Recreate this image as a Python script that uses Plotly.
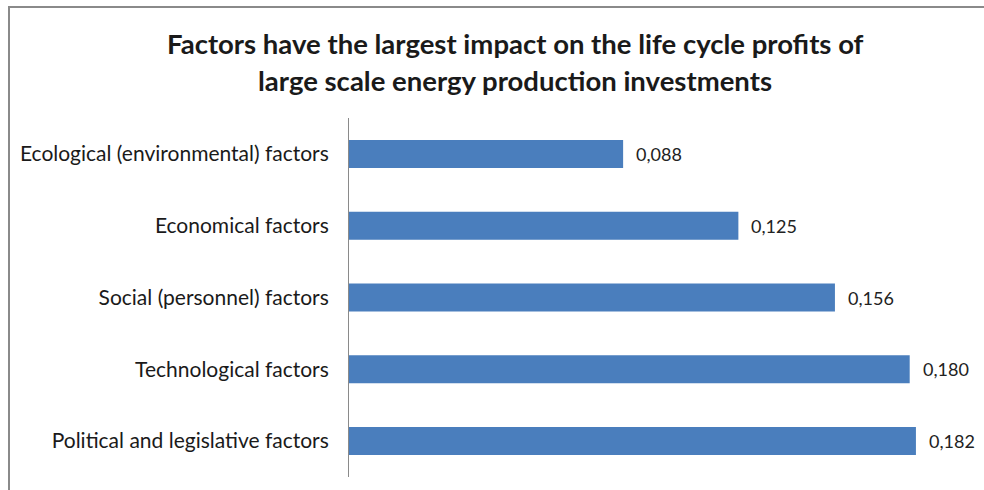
import plotly.graph_objects as go

# Factor weights (top to bottom as displayed)
categories = [
    "Ecological (environmental) factors",
    "Economical factors",
    "Social (personnel) factors",
    "Technological factors",
    "Political and legislative factors",
]
values = [0.088, 0.125, 0.156, 0.180, 0.182]
value_labels = ["0,088", "0,125", "0,156", "0,180", "0,182"]

title_lines = [
    "Factors have the largest impact on the life cycle profits of",
    "large scale energy production investments",
]

FONT = "Lato, 'Open Sans', sans-serif"
BAR_COLOR = "#4A7EBD"

# plot-area geometry in pixels, used to place paper-referenced decorations
L, R, T, B, W, H = 349, 12, 118, 13, 984, 490
PW, PH = W - L - R, H - T - B


def px_x(x):
    return (x - L) / PW


def px_y(y):
    return (H - B - y) / PH


fig = go.Figure(
    go.Bar(
        x=values,
        y=categories,
        orientation="h",
        width=0.39,
        marker=dict(color=BAR_COLOR, line=dict(width=0)),
        hoverinfo="skip",
    )
)

# value labels to the right of each bar
for cat, v, lab in zip(categories, values, value_labels):
    fig.add_annotation(
        x=v, y=cat, text=lab, showarrow=False,
        xanchor="left", xshift=11,
        font=dict(family=FONT, size=18, color="#222"),
    )

# two-line title, each line placed separately to control the leading
for line, yc in zip(title_lines, [43, 80]):
    fig.add_annotation(
        text=line, xref="paper", yref="paper",
        x=px_x(515), y=px_y(yc),
        xanchor="center", yanchor="middle", showarrow=False,
        font=dict(family=FONT, size=27.5, color="#1a1a1a", weight="bold"),
    )

# outer frame of the chart
fig.add_shape(
    type="rect", xref="paper", yref="paper",
    x0=px_x(9), x1=px_x(1100), y0=px_y(600), y1=px_y(7),
    line=dict(color="#8a8a8a", width=2), fillcolor="rgba(0,0,0,0)",
    layer="below",
)

fig.update_layout(
    width=W, height=H,
    margin=dict(l=L, r=R, t=T, b=B),
    paper_bgcolor="white", plot_bgcolor="white",
    showlegend=False,
    xaxis=dict(range=[0, 0.2], visible=False, fixedrange=True),
    yaxis=dict(
        autorange="reversed",
        showline=True, linecolor="#8a8a8a", linewidth=1,
        showgrid=False, zeroline=False,
        ticks="", ticklabelstandoff=15,
        tickfont=dict(family=FONT, size=21, color="#1a1a1a"),
    ),
    font=dict(family=FONT),
)

fig.write_html("out.html")
